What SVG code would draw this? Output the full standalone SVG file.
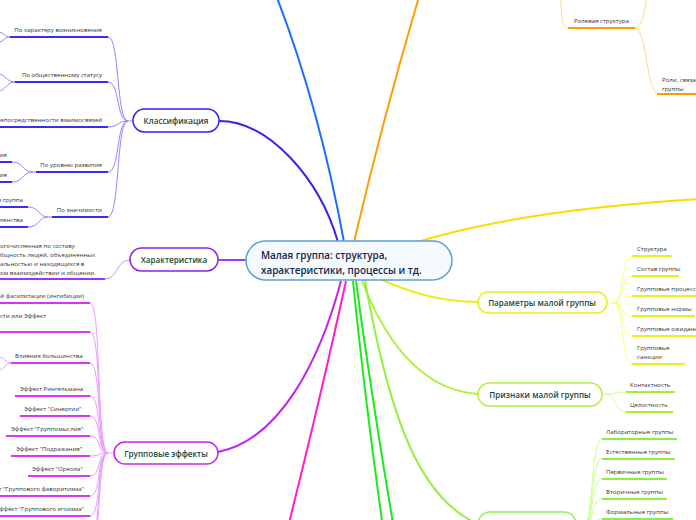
<svg xmlns="http://www.w3.org/2000/svg" width="696" height="520" viewBox="0 0 696 520">
<style>
text{font-family:"Open Sans","Noto Sans","Liberation Sans",sans-serif}
.s{font-size:6.1px;fill:#333}
.n{font-size:8.1px;font-weight:600;fill:#174a3c}
.c{font-size:9.9px;font-weight:600;fill:#13264a}
.box{fill:#fff;stroke-width:1.5}
.u{fill:none;stroke-width:2}
.l{fill:none;stroke-width:1}
.m{fill:none;stroke-width:2}
</style>
<rect width="696" height="520" fill="#fff"/>
<g id="connectors">
  <path class="m" stroke="#3a22ec" stroke-width="1.5" d="M219 121 C270 121 320 180 338 242"/>
  <path class="m" stroke="#1f6cff" stroke-width="2" d="M344 242 Q318 100 272 -15"/>
  <path class="m" stroke="#ff9c0a" stroke-width="2" d="M354 242 Q385 110 424 -20"/>
  <path class="m" stroke="#ffd900" stroke-width="2" d="M414 243 Q520 210 700 199"/>
  <path class="m" stroke="#9b3cff" stroke-width="1.5" d="M246 260 L218 260"/>
  <path class="m" stroke="#c022f0" stroke-width="1.5" d="M341 281 C320 360 280 440 218 452"/>
  <path class="m" stroke="#ff1ecf" stroke-width="2" d="M346 281 Q320 400 286 535"/>
  <path class="m" stroke="#1ee81e" stroke-width="2.2" d="M353 281 Q365 400 384 535"/>
  <path class="m" stroke="#1ee81e" stroke-width="2.2" d="M356 281 Q372 400 395 535"/>
  <path class="m" stroke="#e4f020" stroke-width="1.5" d="M382 280 C410 292 440 302 478 302"/>
  <path class="m" stroke="#aef03a" stroke-width="1.5" d="M362 281 C385 340 420 390 478 394"/>
  <path class="m" stroke="#96ee44" stroke-width="1.5" d="M365 281 C390 420 420 500 480 525"/>
  <g stroke="#8f88ff" class="l">
    <path d="M108 37 C120 37 116 121 128 121 L133 121"/>
    <path d="M108 82 C120 82 116 121 128 121"/>
    <path d="M108 127 C118 127 118 121 128 121"/>
    <path d="M108 172 C120 172 116 121 128 121"/>
    <path d="M108 217 C120 217 116 121 128 121"/>
    <path d="M10 37 C4 37 4 32 -2 32"/><path d="M10 37 C4 37 4 42 -2 42"/>
    <path d="M15 82 C6 82 6 74 -2 74"/><path d="M15 82 C6 82 6 91 -2 91"/>
    <path d="M12 162 C24 162 22 172 33 172 L36 172"/><path d="M12 182 C24 182 22 172 33 172"/>
    <path d="M28 207 C40 207 38 217 48 217 L52 217"/><path d="M28 227 C40 227 38 217 48 217"/>
  </g>
  <g stroke="#c89aff" class="l">
    <path d="M105 279 C118 279 116 260 130 260"/>
  </g>
  <g stroke="#ea9cff" class="l">
    <path d="M90 303 C102 303 96 453 108 453 L114 453"/>
    <path d="M90 332 C102 332 96 453 108 453"/>
    <path d="M90 363 C102 363 96 453 108 453"/>
    <path d="M90 396 C102 396 96 453 108 453"/>
    <path d="M90 416 C102 416 96 453 108 453"/>
    <path d="M90 436 C102 436 96 453 108 453"/>
    <path d="M90 456 C102 456 96 453 108 453"/>
    <path d="M90 476 C102 476 96 453 108 453"/>
    <path d="M90 496 C102 496 96 453 108 453"/>
    <path d="M90 516 C102 516 96 453 108 453"/>
    <path d="M90 536 C102 536 96 453 108 453"/>
    <path d="M90 556 C102 556 96 453 108 453"/>
    <path d="M11 363 C5 363 5 357 -2 357"/><path d="M11 363 C5 363 5 370 -2 370"/>
  </g>
  <g stroke="#f4ff88" class="l">
    <path d="M607 303 L613 303 C625 303 620 256 632 256"/>
    <path d="M613 303 C625 303 620 276 632 276"/>
    <path d="M613 303 C625 303 620 296 632 296"/>
    <path d="M613 303 C625 303 620 316 632 316"/>
    <path d="M613 303 C625 303 620 336 632 336"/>
    <path d="M613 303 C625 303 620 364 632 364"/>
  </g>
  <g stroke="#c8ff94" class="l">
    <path d="M602 394 L605 394 C617 394 614 392 626 392"/>
    <path d="M605 394 C617 394 614 412 626 412"/>
    <path d="M576 530 L582 530 C594 530 590 439 602 439"/>
    <path d="M582 530 C594 530 590 459 602 459"/>
    <path d="M582 530 C594 530 590 479 602 479"/>
    <path d="M582 530 C594 530 590 499 602 499"/>
    <path d="M582 530 C594 530 590 519 602 519"/>
  </g>
  <g stroke="#ffd48c" class="l">
    <path d="M568 28 C560 28 562 10 560 -10"/>
    <path d="M635 28 C642 28 645 10 648 -10"/>
    <path d="M635 28 C648 30 645 94 660 94"/>
  </g>
</g>

<g id="central">
  <rect x="246" y="241" width="206" height="39" rx="19.5" fill="#f5faff" stroke="#5a9fd4" stroke-width="1.5"/>
  <text class="c" x="261" y="259">Малая группа: структура,</text>
  <text class="c" x="261" y="274">характеристики, процессы и тд.</text>
</g>

<g id="classification">
  <rect class="box" x="133" y="109" width="86" height="23" rx="11.5" stroke="#3320ee"/>
  <text class="n" x="176" y="124" text-anchor="middle">Классификация</text>
</g>
<g id="cl-1"><path class="u" stroke="#3a2cf0" d="M10 37 H108"/><text class="s" x="102" y="32" text-anchor="end">По характеру возникновения</text></g>
<g id="cl-2"><path class="u" stroke="#3a2cf0" d="M15 82 H108"/><text class="s" x="102" y="77" text-anchor="end">По общественному статусу</text></g>
<g id="cl-3"><path class="u" stroke="#3a2cf0" d="M0 127 H108"/><text class="s" x="102" y="122" text-anchor="end">По степени непосредственности взаимосвязей</text></g>
<g id="cl-4"><path class="u" stroke="#3a2cf0" d="M36 172 H108"/><text class="s" x="102" y="167" text-anchor="end">По уровню развития</text></g>
<g id="cl-4a"><path class="u" stroke="#3a2cf0" d="M0 162 H12"/><text class="s" x="7" y="157" text-anchor="end">развития</text></g>
<g id="cl-4b"><path class="u" stroke="#3a2cf0" d="M0 182 H12"/><text class="s" x="7" y="177" text-anchor="end">развития</text></g>
<g id="cl-5"><path class="u" stroke="#3a2cf0" d="M52 217 H108"/><text class="s" x="102" y="212" text-anchor="end">По значимости</text></g>
<g id="cl-5a"><path class="u" stroke="#3a2cf0" d="M0 207 H28"/><text class="s" x="23" y="202" text-anchor="end">Референтная группа</text></g>
<g id="cl-5b"><path class="u" stroke="#3a2cf0" d="M0 227 H28"/><text class="s" x="23" y="222" text-anchor="end">Группа членства</text></g>

<g id="characteristic">
  <rect class="box" x="130" y="248" width="88" height="23" rx="11.5" stroke="#8a22ee"/>
  <text class="n" x="174" y="263" text-anchor="middle">Характеристика</text>
</g>
<g id="ch-1"><path class="u" stroke="#9b30ff" d="M0 279 H105"/>
  <text class="s" x="0" y="248">огочисленная по составу</text>
  <text class="s" x="0" y="257">бщность людей, объединенных</text>
  <text class="s" x="0" y="266">альностью и находящихся в</text>
  <text class="s" x="0" y="275">ом взаимодействии и общении.</text>
</g>

<g id="effects">
  <rect class="box" x="114" y="442" width="104" height="22" rx="11" stroke="#cc22ee"/>
  <text class="n" x="166" y="456.5" text-anchor="middle">Групповые эффекты</text>
</g>
<g id="ef-1"><path class="u" stroke="#d633f5" d="M0 303 H90"/><text class="s" x="84" y="298" text-anchor="end">Эффект социальной фасилитации (ингибиции)</text></g>
<g id="ef-2"><path class="u" stroke="#d633f5" d="M0 332 H90"/><text class="s" x="46" y="318" text-anchor="end">Эффект социальной лености  или Эффект</text></g>
<g id="ef-3"><path class="u" stroke="#d633f5" d="M11 363 H90"/><text class="s" x="15" y="358">Влияние большинства</text></g>
<g id="ef-4"><path class="u" stroke="#d633f5" d="M15 396 H90"/><text class="s" x="20" y="391">Эффект Рингельмана</text></g>
<g id="ef-5"><path class="u" stroke="#d633f5" d="M20 416 H90"/><text class="s" x="24" y="411">Эффект "Синергии"</text></g>
<g id="ef-6"><path class="u" stroke="#d633f5" d="M6 436 H90"/><text class="s" x="11" y="431">Эффект "Группомыслия"</text></g>
<g id="ef-7"><path class="u" stroke="#d633f5" d="M11 456 H90"/><text class="s" x="16" y="451">Эффект "Подражания"</text></g>
<g id="ef-8"><path class="u" stroke="#d633f5" d="M28 476 H90"/><text class="s" x="32" y="471">Эффект "Ореола"</text></g>
<g id="ef-9"><path class="u" stroke="#d633f5" d="M0 496 H90"/><text class="s" x="84" y="491" text-anchor="end">Эффект "Группового фаворитизма"</text></g>
<g id="ef-10"><path class="u" stroke="#d633f5" d="M0 516 H90"/><text class="s" x="84" y="511" text-anchor="end">Эффект "Группового эгоизма"</text></g>

<g id="role"><path class="u" stroke="#ff9c00" d="M568 28 H635"/><text class="s" x="574" y="23">Ролевая структура</text></g>
<g id="role-2"><path class="u" stroke="#ff9c00" d="M657 94 H700"/><text class="s" x="662" y="82">Роли, связанные с</text><text class="s" x="662" y="91">группы</text></g>

<g id="params">
  <rect class="box" x="478" y="292" width="129" height="21" rx="10.5" stroke="#e6f01e"/>
  <text class="n" x="542" y="305.5" text-anchor="middle">Параметры малой группы</text>
</g>
<g id="p-1"><path class="u" stroke="#e8f020" d="M632 256 H672"/><text class="s" x="637" y="251">Структура</text></g>
<g id="p-2"><path class="u" stroke="#e8f020" d="M632 276 H679"/><text class="s" x="637" y="271">Состав группы</text></g>
<g id="p-3"><path class="u" stroke="#e8f020" d="M632 296 H700"/><text class="s" x="637" y="291">Групповые процессы</text></g>
<g id="p-4"><path class="u" stroke="#e8f020" d="M632 316 H695"/><text class="s" x="637" y="311">Групповые нормы</text></g>
<g id="p-5"><path class="u" stroke="#e8f020" d="M632 336 H700"/><text class="s" x="637" y="331">Групповые ожидания</text></g>
<g id="p-6"><path class="u" stroke="#e8f020" d="M632 364 H685"/><text class="s" x="637" y="350">Групповые</text><text class="s" x="637" y="359">санкции</text></g>

<g id="signs">
  <rect class="box" x="478" y="383" width="124" height="23" rx="11.5" stroke="#b4f040"/>
  <text class="n" x="540" y="397.5" text-anchor="middle">Признаки малой группы</text>
</g>
<g id="s-1"><path class="u" stroke="#a4f032" d="M626 392 H675"/><text class="s" x="630" y="387">Контактность</text></g>
<g id="s-2"><path class="u" stroke="#a4f032" d="M626 412 H673"/><text class="s" x="630" y="407">Целостность</text></g>

<g id="kinds">
  <rect class="box" x="478" y="512" width="98" height="24" rx="12" stroke="#90f050"/>
  <text class="n" x="527" y="526" text-anchor="middle">Виды малых групп</text>
</g>
<g id="k-1"><path class="u" stroke="#88f040" d="M602 439 H677"/><text class="s" x="606" y="434">Лабораторные группы</text></g>
<g id="k-2"><path class="u" stroke="#88f040" d="M602 459 H675"/><text class="s" x="606" y="454">Естественные группы</text></g>
<g id="k-3"><path class="u" stroke="#88f040" d="M602 479 H667"/><text class="s" x="606" y="474">Первичные группы</text></g>
<g id="k-4"><path class="u" stroke="#88f040" d="M602 499 H667"/><text class="s" x="606" y="494">Вторичные группы</text></g>
<g id="k-5"><path class="u" stroke="#88f040" d="M602 519 H673"/><text class="s" x="606" y="514">Формальные группы</text></g>
</svg>
